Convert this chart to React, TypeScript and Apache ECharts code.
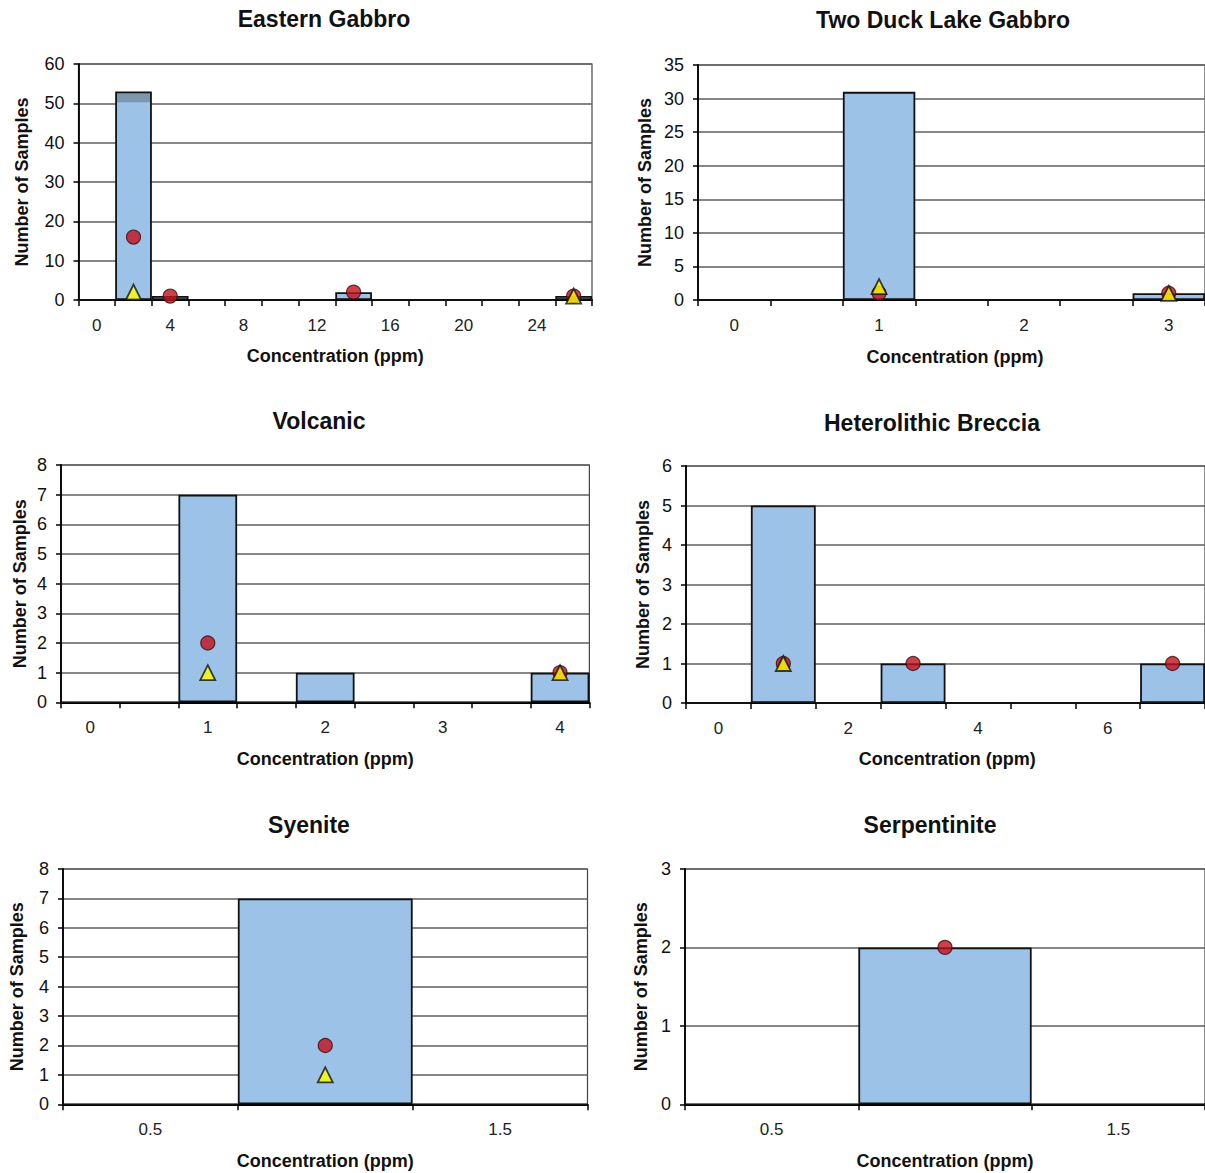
import React, { useEffect, useRef } from "react";
import * as echarts from "echarts";

// ---------- DATA ----------
const egCategories = ["0", "2", "4", "6", "8", "10", "12", "14", "16", "18", "20", "22", "24", "26"];
const egCounts = [0, 53, 1, 0, 0, 0, 0, 2, 0, 0, 0, 0, 0, 1];
const egCircles = [null, 16, 1, null, null, null, null, 2, null, null, null, null, null, 1];
const egTriangles = [null, 2, null, null, null, null, null, null, null, null, null, null, null, 1];

const tdCategories = ["0", "0.5", "1", "1.5", "2", "2.5", "3"];
const tdCounts = [0, 0, 31, 0, 0, 0, 1];
const tdCircles = [null, null, 1, null, null, null, 1];
const tdTriangles = [null, null, 2, null, null, null, 1];

const voCategories = ["0", "0.5", "1", "1.5", "2", "2.5", "3", "3.5", "4"];
const voCounts = [0, 0, 7, 0, 1, 0, 0, 0, 1];
const voCircles = [null, null, 2, null, null, null, null, null, 1];
const voTriangles = [null, null, 1, null, null, null, null, null, 1];

const hbCategories = ["0", "1", "2", "3", "4", "5", "6", "7"];
const hbCounts = [0, 5, 0, 1, 0, 0, 0, 1];
const hbCircles = [null, 1, null, 1, null, null, null, 1];
const hbTriangles = [null, 1, null, null, null, null, null, null];

const syCategories = ["0.5", "1", "1.5"];
const syCounts = [0, 7, 0];
const syCircles = [null, 2, null];
const syTriangles = [null, 1, null];

const spCategories = ["0.5", "1", "1.5"];
const spCounts = [0, 2, 0];
const spCircles = [null, 2, null];
const spTriangles = [null, null, null];

const titles = ["Eastern Gabbro", "Two Duck Lake Gabbro", "Volcanic", "Heterolithic Breccia", "Syenite", "Serpentinite"];
const yMax = [60, 35, 8, 6, 8, 3];
const yStep = [10, 5, 1, 1, 1, 1];
const xTitle = "Concentration (ppm)";
const yTitle = "Number of Samples";

// ---------- LAYOUT ----------
const panels = [
  { cats: egCategories, counts: egCounts, circles: egCircles, tris: egTriangles, left: 78.5, top: 64, width: 513.5, height: 236, titleX: 324, titleY: 19, yTitleX: 22, xTitleY: 356 },
  { cats: tdCategories, counts: tdCounts, circles: tdCircles, tris: tdTriangles, left: 698, top: 65, width: 514, height: 235, titleX: 943, titleY: 20, yTitleX: 645, xTitleY: 357 },
  { cats: voCategories, counts: voCounts, circles: voCircles, tris: voTriangles, left: 61, top: 465, width: 528.4, height: 237.3, titleX: 319, titleY: 421, yTitleX: 20, xTitleY: 759 },
  { cats: hbCategories, counts: hbCounts, circles: hbCircles, tris: hbTriangles, left: 686, top: 466, width: 522.4, height: 237, titleX: 932, titleY: 423, yTitleX: 643, xTitleY: 759 },
  { cats: syCategories, counts: syCounts, circles: syCircles, tris: syTriangles, left: 63, top: 869, width: 524.5, height: 235.3, titleX: 309, titleY: 825, yTitleX: 17, xTitleY: 1161 },
  { cats: spCategories, counts: spCounts, circles: spCircles, tris: spTriangles, left: 685, top: 869, width: 520, height: 235.3, titleX: 930, titleY: 825, yTitleX: 641, xTitleY: 1161 },
];

const FONT = "Arial, 'Liberation Sans', sans-serif";
const BAR_FILL = "#9cc2e8";
const CAP_FILL = "#7d97ae";

function buildOption() {
  const grid: any[] = [];
  const xAxis: any[] = [];
  const yAxis: any[] = [];
  const series: any[] = [];
  const graphic: any[] = [];

  panels.forEach((p, i) => {
    grid.push({
      left: p.left,
      top: p.top,
      width: p.width,
      height: p.height,
      show: true,
      borderColor: "#444",
      borderWidth: 1.2,
      backgroundColor: "#fff",
      containLabel: false,
    });
    xAxis.push({
      type: "category",
      gridIndex: i,
      data: p.cats,
      boundaryGap: true,
      axisLine: { show: true, lineStyle: { color: "#000", width: 2 } },
      axisTick: { show: true, interval: 0, length: 6, lineStyle: { color: "#000", width: 1.5 } },
      axisLabel: { interval: 1, margin: 17, fontSize: 17, color: "#222", fontFamily: FONT },
      splitLine: { show: false },
    });
    yAxis.push({
      type: "value",
      gridIndex: i,
      min: 0,
      max: yMax[i],
      interval: yStep[i],
      axisLine: { show: true, lineStyle: { color: "#000", width: 1.8 } },
      axisTick: { show: true, length: 5, lineStyle: { color: "#000", width: 1.5 } },
      axisLabel: { margin: 14, fontSize: 18, color: "#111", fontFamily: FONT },
      splitLine: { show: true, lineStyle: { color: "#5e5e5e", width: 1.5 } },
    });
    // the tallest Eastern Gabbro bar has a darker cap in the original
    const maxVal = Math.max(...p.counts);
    const barData = p.counts.map((v) => {
      if (i === 0 && v === maxVal) {
        const capFrac = 10 / ((v / yMax[i]) * p.height);
        return {
          value: v,
          itemStyle: {
            color: new echarts.graphic.LinearGradient(0, 0, 0, 1, [
              { offset: 0, color: CAP_FILL },
              { offset: capFrac, color: CAP_FILL },
              { offset: capFrac + 0.001, color: BAR_FILL },
              { offset: 1, color: BAR_FILL },
            ]),
          },
        };
      }
      return v;
    });
    series.push({
      type: "bar",
      xAxisIndex: i,
      yAxisIndex: i,
      data: barData,
      barCategoryGap: "0%",
      itemStyle: { color: BAR_FILL, borderColor: "#111", borderWidth: 1.8 },
      z: 2,
    });
    series.push({
      type: "scatter",
      xAxisIndex: i,
      yAxisIndex: i,
      data: p.circles.map((v) => (v == null ? "-" : v)),
      symbol: "circle",
      symbolSize: 14,
      itemStyle: { color: "#c0121b", borderColor: "#3d0a0a", borderWidth: 1.2 },
      z: 3,
    });
    series.push({
      type: "scatter",
      xAxisIndex: i,
      yAxisIndex: i,
      data: p.tris.map((v) => (v == null ? "-" : v)),
      symbol: "triangle",
      symbolSize: 15,
      itemStyle: { color: "#ffff00", borderColor: "#111", borderWidth: 1.8 },
      z: 4,
    });
    graphic.push({
      type: "text",
      x: p.titleX,
      y: p.titleY,
      style: { text: titles[i], font: `bold 23px ${FONT}`, fill: "#111", textAlign: "center", textVerticalAlign: "middle" },
    });
    graphic.push({
      type: "text",
      x: p.yTitleX,
      y: p.top + p.height / 2,
      rotation: Math.PI / 2,
      style: { text: yTitle, font: `bold 18px ${FONT}`, fill: "#111", textAlign: "center", textVerticalAlign: "middle" },
    });
    graphic.push({
      type: "text",
      x: p.left + p.width / 2,
      y: p.xTitleY,
      style: { text: xTitle, font: `bold 18px ${FONT}`, fill: "#111", textAlign: "center", textVerticalAlign: "middle" },
    });
  });

  return {
    animation: false,
    backgroundColor: "#fff",
    grid,
    xAxis,
    yAxis,
    series,
    graphic,
  };
}

export default function App() {
  const ref = useRef<HTMLDivElement>(null);
  useEffect(() => {
    if (!ref.current) return;
    const chart = echarts.init(ref.current, undefined, { renderer: "svg" });
    chart.setOption(buildOption() as any);
    return () => chart.dispose();
  }, []);
  return (
    <div
      ref={ref}
      style={{ position: "absolute", left: 0, top: 0, width: 1205, height: 1173, overflow: "hidden" }}
    />
  );
}
